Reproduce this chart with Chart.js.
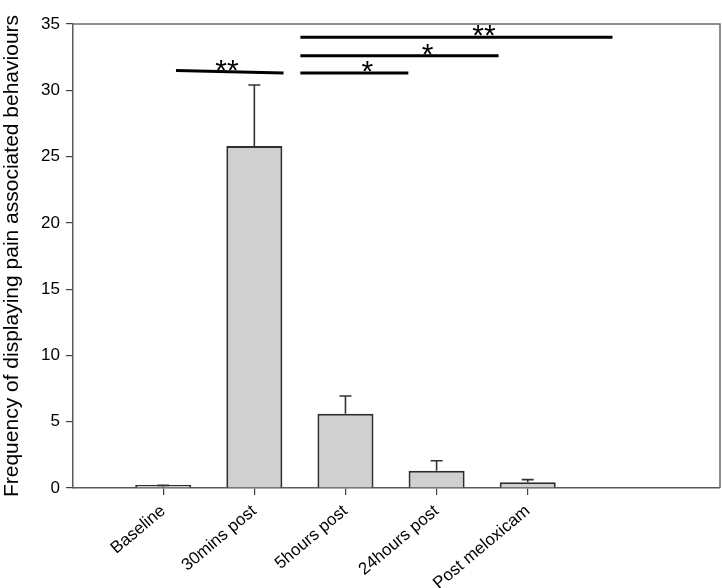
<!DOCTYPE html>
<html>
<head>
<meta charset="utf-8">
<script src="https://cdn.jsdelivr.net/npm/chart.js@4.4.1/dist/chart.umd.min.js"></script>
<style>
  html, body { margin: 0; padding: 0; background: #fff; }
  #wrap { width: 722px; height: 588px; }
</style>
</head>
<body>
<div id="wrap"><canvas id="c" width="722" height="588"></canvas></div>
<script>
// ---- data ----
const categories = ['Baseline', '30mins post', '5hours post', '24hours post', 'Post meloxicam'];
const means = [0.1, 25.8, 5.6, 1.3, 0.43];
const errors = [0.1, 4.6, 1.34, 0.76, 0.2];
const yTitle = 'Frequency of displaying pain associated behaviours';
const yTicks = [0, 5, 10, 15, 20, 25, 30, 35];
// significance bars: x in category units, y in data units
const sigX1 = [0.14, 1.505, 1.505, 1.505];
const sigX2 = [1.32, 2.69, 3.68, 4.93];
const sigY1 = [31.5, 31.3, 32.6, 34.0];
const sigY2 = [31.3, 31.3, 32.6, 34.0];
const sigLabel = ['**', '*', '*', '**'];
const sigLabelX = [0.70, 2.24, 2.90, 3.52];

const FONT = "'Liberation Sans', Arial, Helvetica, sans-serif";

const frame = {
  id: 'frame',
  beforeDatasetsDraw(chart) {
    const { ctx, chartArea: a } = chart;
    ctx.save();
    ctx.strokeStyle = '#6a6a6a';
    ctx.lineWidth = 1.5;
    ctx.beginPath();
    ctx.moveTo(a.left, a.top);
    ctx.lineTo(a.right, a.top);
    ctx.lineTo(a.right, a.bottom);
    ctx.stroke();
    ctx.restore();
  }
};

const errorBars = {
  id: 'errorBars',
  afterDatasetsDraw(chart) {
    const { ctx } = chart;
    const ys = chart.scales.y;
    const meta = chart.getDatasetMeta(0);
    ctx.save();
    ctx.strokeStyle = '#333';
    ctx.lineWidth = 1.6;
    meta.data.forEach((bar, i) => {
      const y0 = ys.getPixelForValue(means[i]);
      const y1 = ys.getPixelForValue(means[i] + errors[i]);
      ctx.beginPath();
      ctx.moveTo(bar.x, y0);
      ctx.lineTo(bar.x, y1);
      ctx.moveTo(bar.x - 6, y1);
      ctx.lineTo(bar.x + 6, y1);
      ctx.stroke();
    });
    ctx.restore();
  }
};

const sigBars = {
  id: 'sigBars',
  afterDraw(chart) {
    const { ctx } = chart;
    const xs = chart.scales.x, ys = chart.scales.y;
    ctx.save();
    ctx.strokeStyle = '#000';
    ctx.lineWidth = 3;
    ctx.lineCap = 'butt';
    ctx.fillStyle = '#000';
    ctx.font = '30px ' + FONT;
    ctx.textAlign = 'center';
    ctx.textBaseline = 'alphabetic';
    for (let i = 0; i < sigX1.length; i++) {
      const ya = ys.getPixelForValue(sigY1[i]);
      const yb = ys.getPixelForValue(sigY2[i]);
      ctx.beginPath();
      ctx.moveTo(xs.getPixelForValue(sigX1[i]), ya);
      ctx.lineTo(xs.getPixelForValue(sigX2[i]), yb);
      ctx.stroke();
      const lx = xs.getPixelForValue(sigLabelX[i]);
      const t = (sigLabelX[i] - sigX1[i]) / (sigX2[i] - sigX1[i]);
      const ly = ya + (yb - ya) * t;
      const m = ctx.measureText(sigLabel[i]);
      const desc = m.actualBoundingBoxDescent || -9;
      ctx.fillText(sigLabel[i], lx, ly - 1 - desc);
    }
    ctx.restore();
  }
};

new Chart(document.getElementById('c'), {
  type: 'bar',
  data: {
    datasets: [{
      data: means.map((v, i) => ({ x: i, y: v })),
      backgroundColor: '#d0d0d0',
      borderColor: '#2e2e2e',
      borderWidth: 2,
      minBarLength: 3,
      barPercentage: 1,
      categoryPercentage: 0.615
    }]
  },
  options: {
    responsive: false,
    animation: false,
    devicePixelRatio: 1,
    layout: { padding: { top: 24, right: 2, left: 0, bottom: 0 } },
    plugins: { legend: { display: false }, tooltip: { enabled: false } },
    scales: {
      x: {
        type: 'linear',
        min: -0.99,
        max: 6.11,
        offset: false,
        afterBuildTicks(scale) { scale.ticks = categories.map((_, i) => ({ value: i })); },
        afterFit(scale) { scale.height = 100; },
        ticks: {
          autoSkip: false,
          minRotation: 40,
          maxRotation: 40,
          color: '#000',
          padding: 6,
          font: { family: FONT, size: 17 },
          callback: (v) => categories[v]
        },
        grid: { offset: false, drawOnChartArea: false, drawTicks: true, tickLength: 7, color: '#444', lineWidth: 1.2 },
        border: { display: true, color: '#5a5a5a', width: 1.5 }
      },
      y: {
        min: 0,
        max: 35,
        afterBuildTicks(scale) { scale.ticks = yTicks.map(v => ({ value: v })); },
        afterFit(scale) { scale.width = 73; },
        ticks: { color: '#000', padding: 6, font: { family: FONT, size: 17 } },
        grid: { drawOnChartArea: false, drawTicks: true, tickLength: 7, color: '#444', lineWidth: 1.2 },
        border: { display: true, color: '#5a5a5a', width: 1.5 },
        title: {
          display: true,
          text: yTitle,
          color: '#000',
          padding: { top: 0, bottom: 0 },
          font: { family: FONT, size: 21 }
        }
      }
    }
  },
  plugins: [frame, errorBars, sigBars]
});
</script>
</body>
</html>
